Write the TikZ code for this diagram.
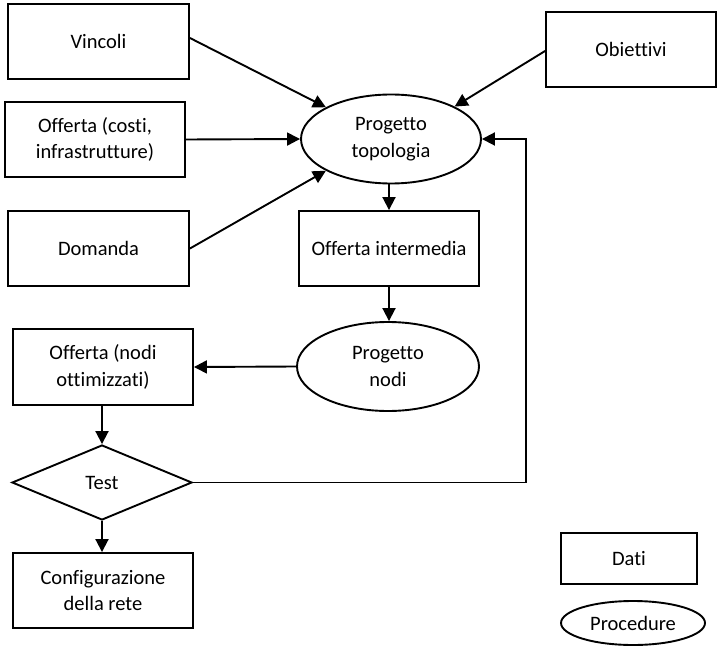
\documentclass[tikz,border=0pt]{standalone}
\usepackage{fontspec}
\setmainfont{Carlito}[Ligatures={NoCommon}]
\usetikzlibrary{shapes.geometric,arrows.meta}
\begin{document}
\begin{tikzpicture}[x=1pt,y=-1pt,line width=1.9pt,
  txt/.style={font=\fontsize{20.5}{26.5}\selectfont, align=center, inner sep=0pt},
  box/.style={txt, draw, rectangle},
  proc/.style={txt, draw, ellipse},
  choice/.style={txt, draw, diamond, aspect=2.4},
  arr/.style={-{Triangle[length=13pt,width=13pt]}}]
\useasboundingbox (0,0) rectangle (720,647);

\node[box, minimum width=181pt, minimum height=75pt] (vinc) at (98.5,41.5) {Vincoli};
\node[box, minimum width=180pt, minimum height=75pt] (offc) at (95,139.5) {Offerta (costi,\\infrastrutture)};
\node[box, minimum width=181pt, minimum height=75pt] (dom) at (98.5,248.5) {Domanda};
\node[box, minimum width=170pt, minimum height=75pt] (obi) at (631,49.5) {Obiettivi};
\node[proc, minimum width=180pt, minimum height=89pt] (topo) at (391,139) {Progetto\\topologia};
\node[box, minimum width=180pt, minimum height=75pt] (inter) at (389,248.5) {Offerta intermedia};
\node[proc, minimum width=182pt, minimum height=89pt] (pnodi) at (388,366.5) {Progetto\\nodi};
\node[box, minimum width=180pt, minimum height=76pt] (onodi) at (103,367) {Offerta (nodi\\ottimizzati)};
\node[choice, minimum width=180pt, minimum height=75pt] (test) at (102,482.5) {Test};
\node[box, minimum width=180pt, minimum height=75pt] (conf) at (103,590.5) {Configurazione\\della rete};
\node[box, minimum width=136pt, minimum height=51pt] (dati) at (629,558.5) {Dati};
\node[proc, minimum width=144pt, minimum height=44pt] (procl) at (633,623) {Procedure};

\coordinate (fb) at (526,139);

\draw[arr] ([yshift=3.5pt]vinc.east) -- (topo.154);
\draw[arr] (offc.east) -- (topo.west);
\draw[arr] (dom.east) -- (topo.206);
\draw[arr] ([yshift=-1.5pt]obi.west) -- (topo.27);
\draw[arr] (inter.north |- topo.south) -- (inter.north);
\draw[arr] (inter.south) -- (inter.south |- pnodi.north);
\draw[arr] (pnodi.west) -- (onodi.east);
\draw[arr] (onodi.south -| test.north) -- (test.north);
\draw[arr] (test.south) -- (test.south |- conf.north);
\draw[arr] (test.east) -| (fb) -- (topo.east);
\end{tikzpicture}
\end{document}
